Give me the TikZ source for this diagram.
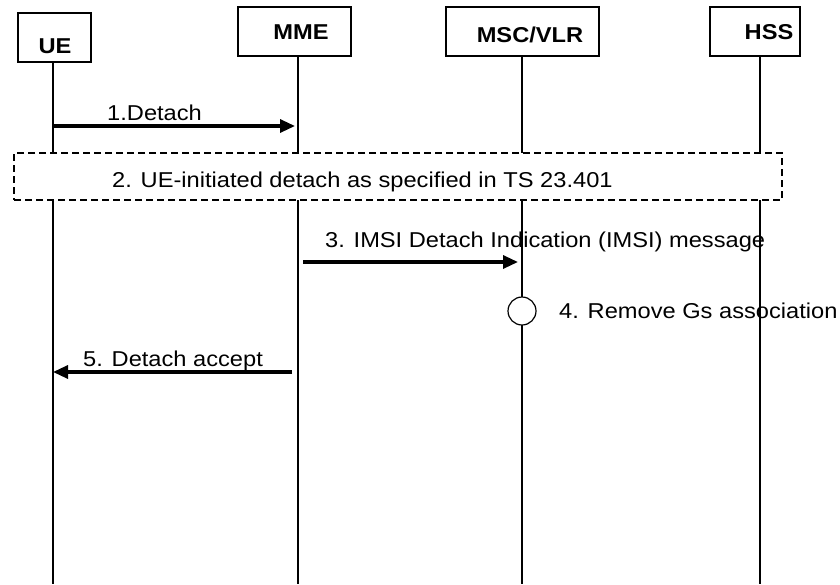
\documentclass[tikz,border=0pt]{standalone}
\usepackage{fontspec}
\setmainfont{Liberation Sans}[FakeStretch=1.1]
\usetikzlibrary{arrows.meta}
\tikzset{
  entity/.style={draw, line width=1.2pt, inner sep=0pt, minimum height=49pt},
  ename/.style={font=\fontsize{21.5}{24}\selectfont\bfseries, inner sep=0pt, anchor=base},
  lifeline/.style={line width=1.2pt},
  msg/.style={line width=3.2pt, -{Triangle[length=15pt,width=13pt]}},
  msgtxt/.style={font=\fontsize{21.5}{24}\selectfont, inner sep=0pt, anchor=base west},
  groupbox/.style={draw, dash pattern=on 7pt off 4pt, line width=1.2pt, fill=white},
  action/.style={draw, circle, line width=1.2pt, fill=white, minimum size=28pt, inner sep=0pt}
}
\begin{document}
\begin{tikzpicture}[x=1pt, y=-1pt]
  \useasboundingbox (0,0) rectangle (840,584);
  \node[entity, minimum width=73pt] (ue) at (54.5,37.5) {};
  \node[entity, minimum width=113pt] (mme) at (294.5,31.5) {};
  \node[entity, minimum width=153pt] (msc) at (522.5,31.5) {};
  \node[entity, minimum width=90pt] (hss) at (755,31.5) {};
  \node[ename] (uetxt) at (55,53) {UE};
  \node[ename] (mmetxt) at (301,39) {MME};
  \node[ename] (msctxt) at (530,42) {MSC/VLR};
  \node[ename] (hsstxt) at (769,39) {HSS};
  \coordinate (ue bot) at (53,584);
  \coordinate (mme bot) at (298,584);
  \coordinate (msc bot) at (522,584);
  \coordinate (hss bot) at (760,584);
  \coordinate (m1) at (0,126);
  \coordinate (m3) at (0,262);
  \coordinate (m4) at (0,311);
  \coordinate (m5) at (0,372);
  \draw[lifeline] (ue.south -| ue bot) -- (ue bot);
  \draw[lifeline] (mme.south -| mme bot) -- (mme bot);
  \draw[lifeline] (msc.south -| msc bot) -- (msc bot);
  \draw[lifeline] (hss.south -| hss bot) -- (hss bot);
  \draw[msg, shorten >=3pt] (ue bot |- m1) -- (mme bot |- m1);
  \node[msgtxt] (l1) at (107,120) {1.Detach};
  \node[groupbox, minimum width=768pt, minimum height=47pt] (grp) at (398,176.5) {};
  \node[msgtxt] (l2) at (112,187) {2. UE-initiated detach as specified in TS 23.401};
  \draw[msg, shorten <=5pt, shorten >=4pt] (mme bot |- m3) -- (msc bot |- m3);
  \node[msgtxt] (l3) at (325,247) {3. IMSI Detach Indication (IMSI) message};
  \node[action] (gs) at (msc bot |- m4) {};
  \node[msgtxt] (l4) at (559,318) {4. Remove Gs association};
  \draw[msg, shorten <=6pt] (mme bot |- m5) -- (ue bot |- m5);
  \node[msgtxt] (l5) at (83,366) {5. Detach accept};
\end{tikzpicture}
\end{document}
